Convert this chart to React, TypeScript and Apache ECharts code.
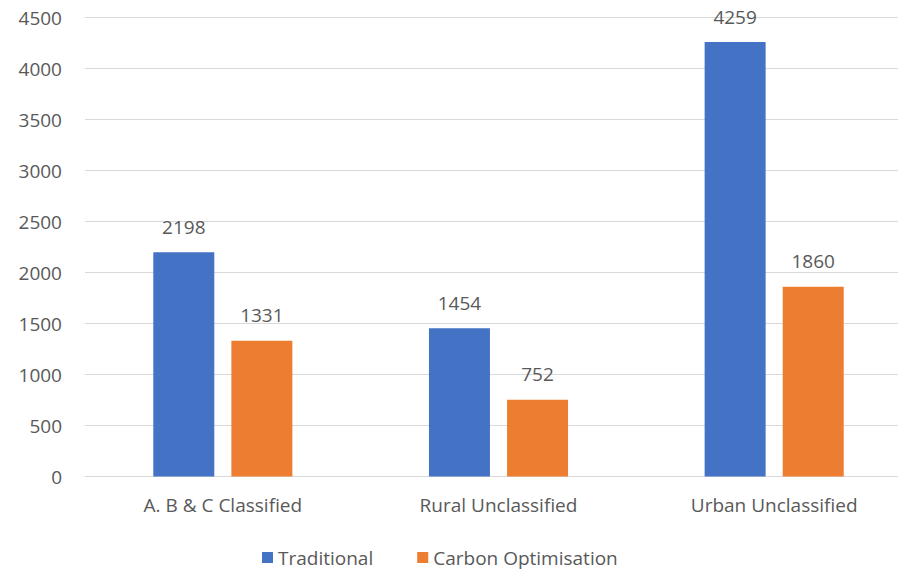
import React, { useEffect, useRef } from "react";
import * as echarts from "echarts";

const categories = ["A. B & C Classified", "Rural Unclassified", "Urban Unclassified"];
const traditional = [2198, 1454, 4259];
const carbonOptimisation = [1331, 752, 1860];
const seriesNames = ["Traditional", "Carbon Optimisation"];

export default function App() {
  const ref = useRef<HTMLDivElement>(null);
  useEffect(() => {
    if (!ref.current) return;
    const chart = echarts.init(ref.current, null, { renderer: "svg" });
    const font = "'Open Sans', sans-serif";
    const textColor = "#595959";
    const fs = 19;
    chart.setOption({
      animation: false,
      backgroundColor: "#ffffff",
      textStyle: { fontFamily: font },
      grid: { left: 85, top: 17.5, width: 827, height: 459, containLabel: false },
      legend: {
        data: seriesNames,
        top: 543,
        left: 257,
        icon: "rect",
        itemWidth: 11,
        itemHeight: 11,
        itemGap: 44,
        textStyle: { color: textColor, fontSize: fs, fontFamily: font },
      },
      xAxis: {
        type: "category",
        data: categories,
        axisLine: { show: true, lineStyle: { color: "#D9D9D9", width: 1 } },
        axisTick: { show: false },
        axisLabel: { color: textColor, fontSize: fs, margin: 19, fontFamily: font },
      },
      yAxis: {
        type: "value",
        min: 0,
        max: 4500,
        interval: 500,
        axisLine: { show: false },
        axisTick: { show: false },
        splitLine: { lineStyle: { color: "#D9D9D9", width: 1 } },
        axisLabel: {
          color: textColor,
          fontSize: fs,
          margin: 23,
          fontFamily: font,
          formatter: (v: number) => String(v),
        },
      },
      series: [
        {
          name: seriesNames[0],
          type: "bar",
          data: traditional,
          barWidth: 61,
          barGap: "28%",
          itemStyle: { color: "#4472C4" },
          label: { show: true, position: "top", distance: 16, color: textColor, fontSize: fs, fontFamily: font },
        },
        {
          name: seriesNames[1],
          type: "bar",
          data: carbonOptimisation,
          barWidth: 61,
          barGap: "28%",
          itemStyle: { color: "#ED7D31" },
          label: { show: true, position: "top", distance: 16, color: textColor, fontSize: fs, fontFamily: font },
        },
      ],
    });
    return () => chart.dispose();
  }, []);
  return (
    <div
      style={{ position: "fixed", left: 0, top: 0, width: 898, height: 569, overflow: "hidden", background: "#fff" }}
    >
      <div ref={ref} style={{ width: 940, height: 569 }} />
    </div>
  );
}
